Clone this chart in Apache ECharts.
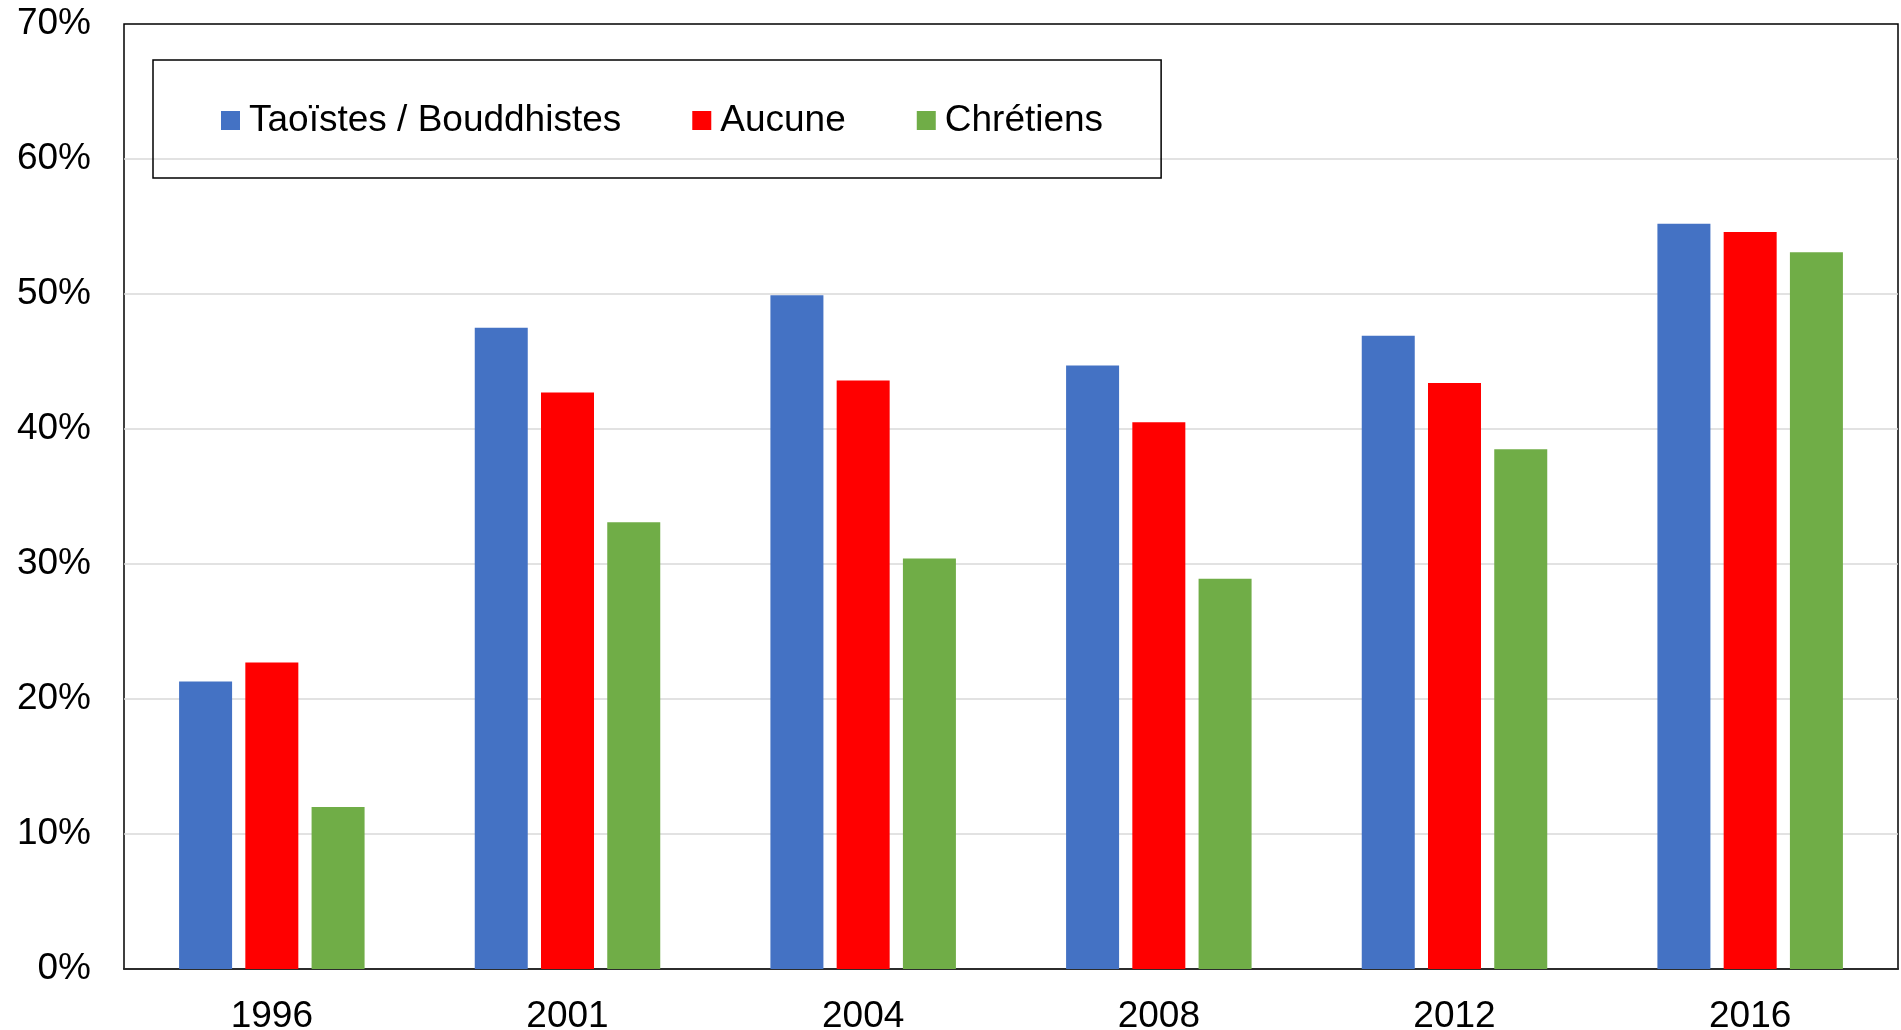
<!DOCTYPE html>
<html>
<head>
<meta charset="utf-8">
<title>Religions</title>
<script src="https://cdn.jsdelivr.net/npm/echarts@6/dist/echarts.min.js"></script>
<style>
    html, body { margin: 0; padding: 0; background: #fff; }
    #chart { width: 1901px; height: 1030px; }
</style>
</head>
<body>
<div id="chart"></div>
<script>
var years = ['1996', '2001', '2004', '2008', '2012', '2016'];
var seriesNames = ['Taoïstes / Bouddhistes', 'Aucune', 'Chrétiens'];
var taoistes = [21.3, 47.5, 49.9, 44.7, 46.9, 55.2];
var aucune = [22.7, 42.7, 43.6, 40.5, 43.4, 54.6];
var chretiens = [12.0, 33.1, 30.4, 28.9, 38.5, 53.1];
var colors = ['#4472C4', '#FF0000', '#70AD47'];

var font = '"Liberation Sans", Arial, sans-serif';

var myChart = echarts.init(document.getElementById('chart'));

function bar(name, data, color) {
    return {
        name: name,
        type: 'bar',
        data: data,
        barWidth: 53,
        barGap: '25%',
        itemStyle: { color: color },
        emphasis: { disabled: true }
    };
}

var option = {
    animation: false,
    textStyle: { fontFamily: font },
    grid: {
        left: 124, right: 3, top: 24, bottom: 61,
        outerBoundsMode: 'none',
        show: true,
        borderColor: '#000',
        borderWidth: 1.5
    },
    legend: {
        data: seriesNames,
        left: 153,
        top: 60,
        padding: [42, 58, 39, 68],
        borderColor: '#000',
        borderWidth: 1.5,
        itemWidth: 19,
        itemHeight: 19,
        itemGap: 71,
        icon: 'rect',
        textStyle: { fontSize: 37, color: '#000', fontFamily: font, padding: [0, 0, 0, 4] }
    },
    xAxis: {
        type: 'category',
        data: years,
        axisLine: { lineStyle: { color: '#000', width: 1.5 } },
        axisTick: { show: false },
        axisLabel: { fontSize: 37, color: '#000', margin: 29, fontFamily: font }
    },
    yAxis: {
        type: 'value',
        min: 0,
        max: 70,
        interval: 10,
        axisLine: { show: false },
        axisTick: { show: false },
        splitLine: { showMaxLine: false, lineStyle: { color: '#d9d9d9', width: 1.5 } },
        axisLabel: {
            fontSize: 37, color: '#000', margin: 33, fontFamily: font,
            padding: [5, 0, 0, 0],
            formatter: '{value}%'
        }
    },
    series: [
        bar(seriesNames[0], taoistes, colors[0]),
        bar(seriesNames[1], aucune, colors[1]),
        bar(seriesNames[2], chretiens, colors[2])
    ]
};

myChart.setOption(option);
</script>
</body>
</html>
